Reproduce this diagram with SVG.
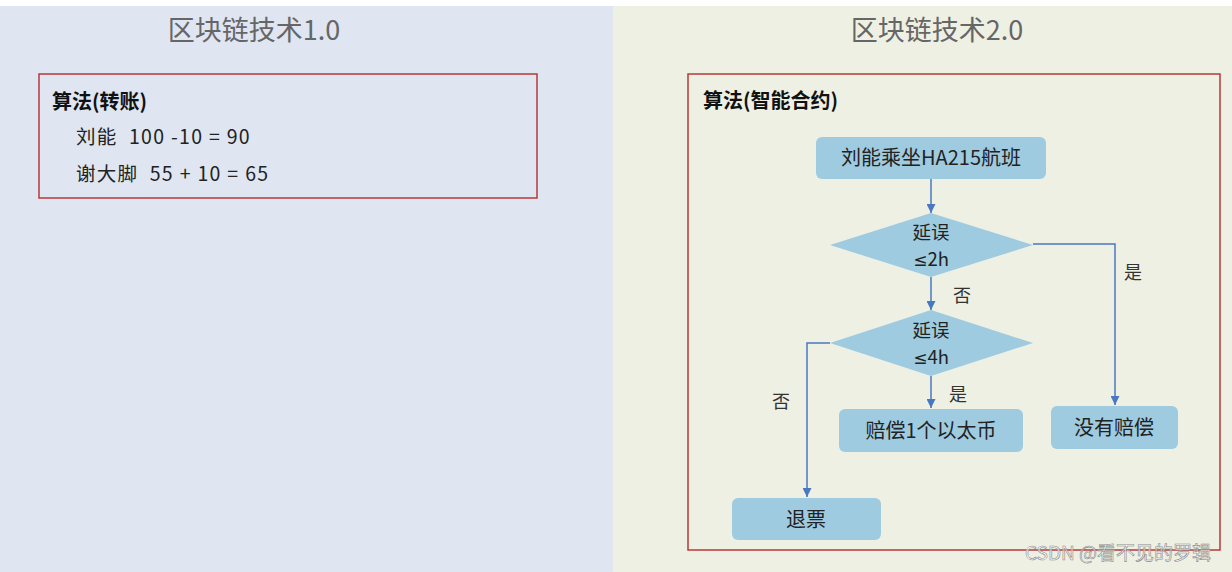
<svg xmlns="http://www.w3.org/2000/svg" width="1232" height="572" viewBox="0 0 1232 572">
<style>
text{font-family:"Noto Sans CJK SC","Liberation Sans",sans-serif;fill:#222;white-space:pre}
.title{font-size:27px;fill:#666;text-anchor:middle}
.hd{font-size:20px;font-weight:bold;fill:#111}
.body{font-size:19.5px;letter-spacing:1.3px}
.node{fill:#9fcbe0}
.lbl{font-size:20px;text-anchor:middle}
.dl{font-size:18.5px;text-anchor:middle}
.el{font-size:18px;text-anchor:middle;fill:#333}
.le{font-family:"DejaVu Sans",sans-serif;font-size:17px}
.edge{fill:none;stroke:#4a78c0;stroke-width:1.5}
.frame{fill:none;stroke:#b8383a;stroke-width:1.5}
</style>
<defs>
<marker id="ah" viewBox="0 0 10 10" refX="10" refY="5" markerWidth="9" markerHeight="9" markerUnits="userSpaceOnUse" orient="auto"><path d="M0,0 L10,5 L0,10 z" fill="#4a78c0"/></marker>
</defs>
<rect x="0" y="0" width="1232" height="572" fill="#ffffff"/>
<rect x="0" y="6" width="613" height="566" fill="#dfe5f1"/>
<rect x="613" y="6" width="619" height="566" fill="#eef0e3"/>

<g id="panel1">
<text class="title" x="254" y="40">区块链技术1.0</text>
<rect class="frame" x="39" y="74" width="498" height="124"/>
<text class="hd" x="52" y="109">算法(转账)</text>
<text class="body" x="76" y="144">刘能  100 -10 = 90</text>
<text class="body" x="76" y="181">谢大脚  55 + 10 = 65</text>
</g>

<g id="panel2">
<text class="title" x="937" y="40">区块链技术2.0</text>
<rect class="frame" x="688" y="74" width="532" height="476"/>
<text class="hd" x="703" y="108">算法(智能合约)</text>
</g>

<g id="connectors">
<path class="edge" d="M931,179 V213" marker-end="url(#ah)"/>
<path class="edge" d="M1033,244 H1115 V405" marker-end="url(#ah)"/>
<path class="edge" d="M931,277 V310" marker-end="url(#ah)"/>
<path class="edge" d="M830,343 H807 V497" marker-end="url(#ah)"/>
<path class="edge" d="M931,376 V408" marker-end="url(#ah)"/>
<text class="el" x="1133" y="279">是</text>
<text class="el" x="962" y="302">否</text>
<text class="el" x="781" y="408">否</text>
<text class="el" x="958" y="401">是</text>
</g>

<g id="n-start">
<rect class="node" x="816" y="137" width="230" height="42" rx="6"/>
<text class="lbl" x="931" y="165">刘能乘坐HA215航班</text>
</g>
<g id="n-d1">
<polygon class="node" points="931,213 1033,245 931,277 830,245"/>
<text class="dl" x="931" y="239">延误</text>
<text class="dl" x="931" y="266"><tspan class="le">≤</tspan>2h</text>
</g>
<g id="n-d2">
<polygon class="node" points="931,310 1033,343 931,376 830,343"/>
<text class="dl" x="931" y="337">延误</text>
<text class="dl" x="931" y="364"><tspan class="le">≤</tspan>4h</text>
</g>
<g id="n-pay">
<rect class="node" x="839" y="409" width="184" height="43" rx="6"/>
<text class="lbl" x="931" y="438">赔偿1个以太币</text>
</g>
<g id="n-none">
<rect class="node" x="1051" y="406" width="127" height="43" rx="6"/>
<text class="lbl" x="1114" y="435">没有赔偿</text>
</g>
<g id="n-refund">
<rect class="node" x="732" y="498" width="149" height="42" rx="6"/>
<text class="lbl" x="806" y="527">退票</text>
</g>

<text x="1025" y="560" style="font-size:19px;fill:#ffffff;fill-opacity:0.7;stroke:#8a8a8a;stroke-width:0.6">CSDN @看不见的罗辑</text>
</svg>
